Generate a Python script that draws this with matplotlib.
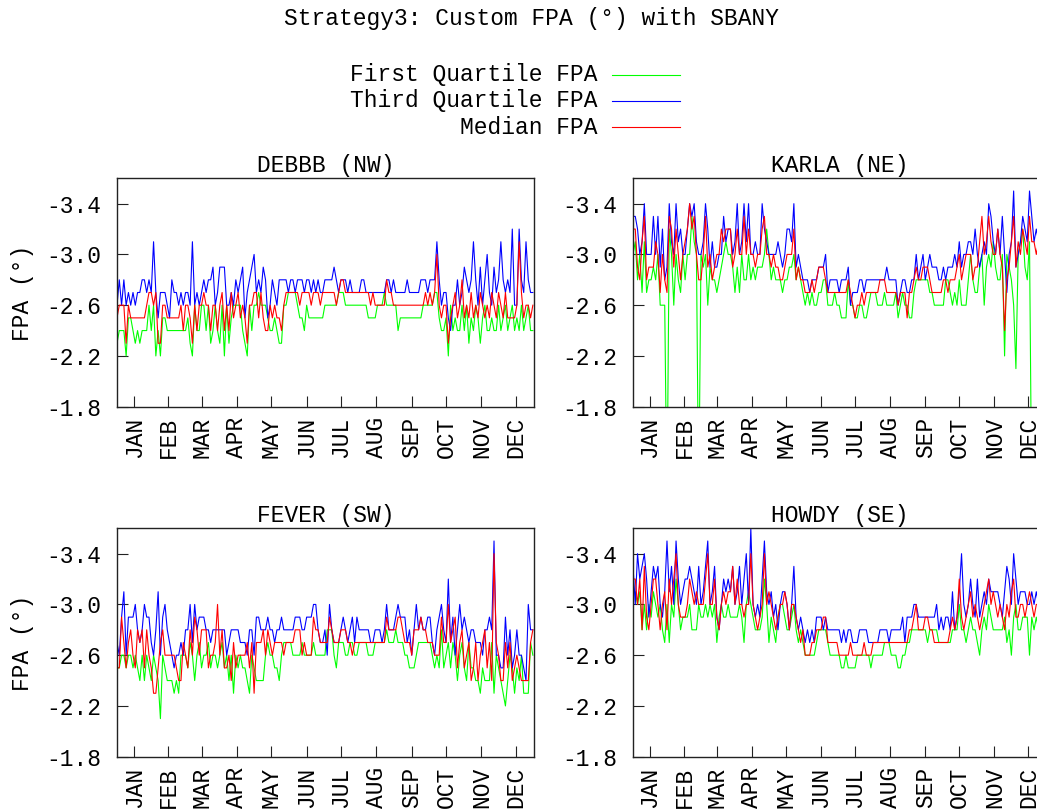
import numpy as np
import matplotlib
matplotlib.use("Agg")
import matplotlib.pyplot as plt
from matplotlib.lines import Line2D

# FPA magnitudes in tenths of a degree, one value every second day (day 0, 2, ..., 364)
debbb_q1 = [
    23, 24, 24, 24, 22, 25, 25, 24, 23, 24, 23, 24, 24, 24, 26, 24,
    26, 22, 24, 22, 25, 25, 24, 24, 24, 24, 24, 24, 24, 24, 24, 25,
    23, 22, 26, 24, 24, 26, 26, 24, 26, 23, 24, 26, 24, 23, 26, 22,
    26, 23, 25, 26, 26, 26, 26, 24, 23, 22, 26, 24, 26, 26, 27, 26,
    26, 26, 25, 24, 24, 25, 24, 23, 23, 26, 26, 27, 27, 27, 27, 26,
    25, 25, 24, 26, 25, 25, 25, 25, 25, 25, 25,
    26, 26, 26, 26, 26, 26, 27, 27, 27, 26, 26, 26, 26, 26, 26,
    26, 26, 26, 26, 25, 25, 25, 25, 26, 26, 26, 27, 26, 26, 26,
    26, 26, 24, 25, 25, 25, 25, 25, 25, 25, 25, 25, 25, 26, 26,
    26, 26, 26, 27, 27, 25, 24, 24, 25, 22, 26, 24, 25, 24, 24,
    26, 24, 26, 23, 25, 24, 26, 25, 23, 25, 26, 24, 24, 25, 24,
    24, 26, 24, 25, 26, 24, 25, 26, 24, 25, 24, 26, 24, 25, 26, 24, 24,
]
debbb_q3 = [
    26, 28, 26, 28, 26, 27, 26, 27, 26, 27, 27, 28, 28, 27, 28, 27,
    31, 27, 25, 27, 27, 27, 26, 25, 28, 27, 27, 26, 27, 26, 27, 27,
    26, 31, 26, 27, 26, 27, 28, 27, 28, 28, 29, 26, 27, 29,
    29, 29, 26, 26, 27, 26, 28, 27, 28, 29, 25, 27, 28, 29, 30,
    27, 28, 27, 29, 28, 25, 26, 28, 27, 26, 28, 28, 28, 28, 27,
    28, 28, 27, 28, 28, 28, 27, 28, 28, 27, 28, 27, 28, 27, 27,
    28, 28, 28, 28, 29, 28, 27, 28, 28, 28, 27, 28, 27, 27, 27,
    27, 28, 28, 27, 27, 27, 27, 27, 27, 27, 27, 27, 28, 28, 27,
    28, 27, 27, 27, 27, 27, 28, 27, 27, 27, 27, 27, 28, 28, 28,
    27, 28, 28, 28, 31, 28, 26, 27, 27, 25, 24, 26, 26, 28, 26,
    27, 29, 28, 27, 28, 31, 28, 26, 29, 26, 28, 30, 27, 26, 29,
    27, 28, 31, 28, 27, 28, 27, 32, 26, 26, 32, 28, 27, 31, 28, 27, 27,
]
debbb_med = [
    25, 26, 26, 26, 23, 26, 25, 25, 25, 25, 25, 25, 25, 26, 27, 27,
    26, 27, 23, 23, 26, 26, 25, 25, 25, 25, 25, 25, 26, 24, 26, 26,
    25, 23, 26, 24, 26, 26, 27, 26, 26, 24, 26, 26, 24, 26, 27, 24,
    26, 24, 27, 25, 26, 27, 25, 26, 25, 23, 26, 26, 27, 27, 25, 27,
    25, 24, 24, 26, 25, 26, 25, 25, 24, 26, 27, 27, 27, 27, 27, 27,
    26, 27, 27, 27, 27, 26, 27, 27, 27, 26, 27,
    27, 27, 27, 27, 27, 26, 27, 28, 28, 27, 27, 27, 27, 27, 27,
    27, 27, 27, 27, 27, 26, 27, 26, 26, 26, 26, 26, 28, 27, 27,
    26, 26, 26, 26, 26, 26, 26, 26, 26, 26, 26, 26, 26, 26, 27,
    26, 27, 26, 27, 30, 26, 25, 26, 26, 23, 25, 26, 27, 25, 26,
    28, 25, 26, 25, 27, 25, 26, 25, 27, 26, 25, 26, 25, 27, 26,
    25, 27, 26, 25, 27, 25, 25, 25, 25, 26, 31, 27, 25, 26, 26, 25, 26,
]

karla_q1 = [
    30, 31, 28, 30, 27, 31, 27, 28, 28, 29,
    28, 30, 26, 26, 26, 10, 32, 30, 26, 30,
    28, 27, 30, 28, 30, 30, 33, 31, 30, 10,
    30, 29, 30, 26, 29, 28, 28, 27, 28, 29,
    30, 31, 30, 30, 29, 27, 29, 27, 30, 28,
    28, 30, 28, 29, 28, 29, 29, 29, 30, 32,
    30, 28, 29, 28, 28, 28, 27, 28, 28, 29,
    29, 30, 28, 29, 28, 27, 26, 27, 26, 27,
    26, 26,
    27, 27, 28, 28, 26, 26, 26, 27, 26, 26,
    25, 25, 25, 28, 26, 26, 25, 25, 26, 26,
    25, 25, 26, 27, 27, 27, 26, 26, 26, 27,
    26, 26, 26, 26, 27, 25, 26, 27, 26, 26,
    25, 25, 27, 28, 28, 28, 28, 28, 28, 27,
    27, 26, 26, 26, 26, 26, 28, 28, 27, 26,
    27, 26, 28, 26, 26, 26, 28, 30, 28, 27,
    27, 29, 30, 26, 29, 30, 29, 31, 29, 28,
    28, 30, 22, 30, 29, 28, 26, 21, 30, 31,
    32, 29, 28, 31, 10, 10, 10, 10, 10, 10,
    10,
]
karla_q3 = [
    33, 33, 32, 30, 31, 34, 30, 30, 30, 33,
    30, 33, 29, 32, 28, 29, 34, 31, 30, 34,
    31, 32, 30, 30, 32, 34, 33, 34, 31, 30,
    30, 31, 34, 32, 29, 31, 29, 29, 30, 30,
    33, 31, 32, 32, 30, 31, 34, 30, 31, 34,
    31, 34, 30, 30, 31, 30, 30, 34, 32, 31,
    30, 30, 30, 30, 31, 30, 29, 30, 32, 32,
    31, 34, 29, 30, 29, 28, 28, 28, 27, 28,
    28, 28,
    29, 29, 29, 30, 27, 28, 28, 28, 28, 27,
    28, 28, 28, 29, 26, 27, 27, 27, 28, 28,
    27, 28, 28, 28, 28, 28, 28, 28, 28, 28,
    29, 28, 28, 28, 28, 26, 27, 28, 28, 27,
    27, 28, 28, 30, 28, 29, 30, 28, 29, 30,
    29, 29, 29, 28, 28, 29, 28, 29, 29, 29,
    30, 29, 31, 29, 30, 30, 31, 31, 30, 32,
    30, 29, 30, 31, 30, 34, 33, 31, 30, 32,
    30, 33, 30, 27, 30, 31, 35, 29, 30, 31,
    33, 32, 31, 35, 33, 31, 32, 31, 30, 32,
    31,
]
karla_med = [
    32, 32, 29, 28, 31, 33, 28, 29, 29, 29,
    31, 30, 27, 30, 28, 27, 33, 32, 29, 32,
    30, 28, 30, 31, 32, 34, 32, 33, 30, 28,
    28, 30, 33, 29, 30, 28, 29, 30, 30, 32,
    31, 32, 32, 32, 29, 30, 32, 30, 30, 33,
    30, 32, 30, 30, 29, 30, 30, 32, 33, 30,
    30, 29, 30, 29, 29, 28, 28, 29, 30, 30,
    30, 32, 28, 29, 28, 28, 27, 27, 27, 28,
    27, 28,
    29, 29, 29, 28, 27, 27, 27, 27, 27, 27,
    27, 27, 27, 28, 27, 26, 25, 26, 26, 27,
    26, 27, 27, 27, 27, 27, 27, 28, 28, 28,
    27, 27, 27, 27, 27, 26, 27, 27, 27, 25,
    27, 27, 28, 29, 28, 28, 29, 29, 29, 28,
    27, 27, 27, 27, 27, 28, 28, 27, 28, 28,
    28, 29, 30, 28, 29, 30, 30, 30, 28, 29,
    29, 31, 33, 30, 31, 33, 31, 30, 30, 32,
    30, 29, 24, 28, 29, 31, 33, 29, 31, 30,
    32, 31, 30, 33, 31, 31, 30, 31, 30, 29,
    30,
]

fever_q1 = [
    25, 25, 26, 26, 25, 26, 26, 25, 26, 25,
    24, 26, 24, 26, 25, 24, 26, 25, 24, 21,
    26, 25, 24, 24, 24, 23, 24, 23, 26, 26,
    26, 25, 27, 26, 24, 26, 27, 25, 26, 26,
    27, 25, 26, 26, 25, 26, 27, 25, 26, 24,
    26, 23, 26, 25, 26, 25, 25, 24, 23, 26,
    25, 24, 24, 24, 24, 26, 27, 26, 26, 25,
    25, 24, 26, 27, 27, 27, 27, 26, 26, 26,
    26, 27, 26, 26, 26, 26, 27, 26, 26,
    26, 26, 26, 28, 28, 28, 26, 25, 27, 27,
    27, 26, 26, 27, 27, 26, 26, 27, 27, 27,
    27, 26, 26, 26, 27, 27, 27, 27, 27, 28,
    27, 27, 27, 28, 27, 27, 27, 26, 26, 25,
    25, 25, 26, 27, 27, 27, 27, 27, 27, 26,
    25, 26, 25, 28, 25, 26, 27, 25, 27, 26,
    24, 26, 27, 25, 24, 27, 25, 25, 24, 24,
    23, 25, 24, 24, 24, 27, 23, 26, 25, 24,
    23, 22, 24, 26, 25, 23, 25, 24, 26, 23,
    23, 23, 27, 26,
]
fever_q3 = [
    27, 26, 29, 31, 26, 29, 29, 29, 30, 28,
    27, 28, 30, 29, 29, 27, 26, 28, 31, 26,
    29, 30, 28, 27, 26, 25, 26, 26, 27, 26,
    28, 28, 30, 27, 30, 28, 29, 29, 29, 28,
    28, 27, 28, 28, 28, 28, 28, 28, 26, 27,
    28, 28, 28, 28, 27, 27, 27, 26, 28, 28,
    26, 29, 29, 28, 28, 28, 29, 28, 28, 27,
    28, 28, 29, 28, 28, 28, 28, 28, 29, 29,
    29, 28, 28, 29, 29, 29, 30,
    30, 28, 27, 27, 28, 26, 30, 28, 27, 27,
    27, 28, 29, 28, 27, 28, 29, 27, 29, 28,
    28, 28, 28, 28, 27, 27, 28, 28, 28, 27,
    28, 30, 28, 28, 28, 29, 30, 29, 29, 29,
    27, 28, 26, 28, 30, 28, 29, 28, 28, 29,
    29, 27, 26, 28, 29, 30, 28, 27, 32, 27,
    29, 26, 28, 30, 28, 29, 28, 27, 28, 28,
    27, 27, 27, 26, 28, 28, 29, 28, 35, 26,
    26, 25, 25, 29, 26, 28, 25, 26, 28, 26,
    26, 25, 24, 30, 28, 28,
]
fever_med = [
    25, 25, 29, 27, 25, 27, 28, 26, 25, 28,
    27, 28, 25, 28, 26, 25, 23, 23, 25, 27,
    28, 26, 26, 26, 26, 26, 25, 24, 24, 27,
    26, 25, 28, 26, 29, 28, 26, 28, 28, 28,
    25, 26, 26, 27, 30, 26, 28, 25, 25, 26,
    24, 27, 25, 26, 26, 26, 26, 27, 25, 27,
    23, 27, 27, 27, 28, 26, 28, 27, 26, 27,
    27, 27, 27, 26, 27, 27, 27, 27, 28, 28,
    28, 26, 27, 26, 26, 26, 29, 28, 28,
    27, 27, 27, 27, 29, 28, 27, 27, 27, 28,
    28, 28, 27, 27, 26, 27, 27, 27, 27, 27,
    27, 27, 27, 27, 27, 27, 27, 27, 27, 29,
    28, 28, 28, 28, 29, 29, 28, 27, 27, 27,
    26, 28, 28, 28, 29, 28, 28, 27, 27, 27,
    26, 26, 26, 29, 27, 27, 30, 27, 28, 29,
    25, 27, 28, 25, 26, 27, 24, 25, 27, 24,
    26, 27, 28, 25, 27, 24, 34, 27, 26, 24,
    24, 27, 25, 27, 24, 25, 26, 25, 24, 24,
    24, 24, 27, 28,
]

howdy_q1 = [
    31, 31, 30, 31, 28, 30, 28, 30, 29, 31,
    30, 29, 30, 28, 27, 30, 27, 30, 29, 32,
    30, 28, 29, 29, 29, 30, 28, 28, 28, 30,
    29, 29, 30, 29, 30, 29, 30, 27, 29, 30,
    29, 29, 30, 29, 29, 29, 29, 30, 29, 27,
    30, 31, 30, 29, 28, 28, 28, 29, 32, 30,
    27, 29, 28, 27, 29, 30, 30, 29, 28, 28,
    29, 30, 28, 27, 28, 27, 26, 26, 26, 26,
    26, 27, 28, 28, 28, 28, 27,
    26, 26, 26, 26, 26, 25, 25, 26, 25, 25,
    25, 25, 26, 26, 26, 26, 26, 26, 25, 26,
    26, 26, 26, 26, 27, 27, 27, 26, 26, 26,
    25, 25, 26, 26, 27, 27, 28, 28, 28, 28,
    28, 28, 28, 27, 28, 28, 28, 28, 27, 27,
    27, 27, 27, 27, 28, 28, 28, 30, 28, 28,
    27, 28, 29, 28, 28, 27, 26, 28, 29, 28,
    30, 29, 28, 28, 28, 28, 28, 29, 27, 28,
    26, 29, 30, 28, 28, 29, 29, 29, 26, 29,
    28, 29, 28, 29, 28, 29,
]
howdy_q3 = [
    33, 30, 34, 32, 33, 34, 32, 29, 31, 33,
    32, 33, 30, 29, 31, 35, 31, 33, 30, 35,
    32, 30, 31, 32, 32, 33, 32, 31, 30, 33,
    30, 31, 33, 35, 30, 31, 33, 29, 28, 30,
    32, 31, 32, 31, 33, 30, 31, 33, 30, 32,
    34, 30, 36, 30, 29, 30, 29, 32, 35, 31,
    30, 31, 29, 30, 28, 30, 31, 31, 30, 28,
    30, 33, 29, 28, 29, 28, 27, 28, 27, 28,
    27, 29, 29, 29, 28, 29, 28,
    28, 28, 28, 28, 28, 27, 28, 27, 28, 28,
    27, 27, 27, 28, 28, 28, 28, 27, 27, 27,
    27, 27, 28, 28, 28, 28, 27, 28, 28, 28,
    28, 28, 29, 27, 29, 29, 29, 30, 30, 29,
    29, 29, 29, 29, 29, 29, 29, 30, 28, 29,
    28, 29, 29, 28, 31, 28, 29, 31, 34, 30,
    29, 30, 32, 30, 29, 32, 29, 30, 31, 30,
    32, 31, 31, 31, 31, 30, 29, 31, 33, 32,
    30, 34, 32, 30, 31, 31, 31, 30, 30, 31,
    30, 31, 30, 32, 31, 30,
]
howdy_med = [
    32, 32, 30, 32, 28, 33, 29, 28, 30, 32,
    32, 30, 28, 30, 31, 28, 32, 30, 32, 34,
    30, 29, 29, 29, 30, 32, 31, 30, 31, 30,
    30, 30, 32, 34, 30, 30, 32, 29, 28, 30,
    31, 30, 31, 31, 33, 30, 32, 30, 30, 29,
    30, 30, 34, 30, 29, 28, 29, 30, 34, 30,
    31, 30, 29, 28, 29, 30, 30, 31, 30, 28,
    30, 30, 29, 28, 27, 28, 26, 26, 26, 27,
    27, 28, 28, 28, 29, 29, 27,
    27, 27, 27, 27, 26, 26, 26, 26, 26, 27,
    26, 26, 26, 26, 26, 27, 26, 26, 26, 27,
    27, 27, 27, 27, 27, 27, 27, 27, 27, 27,
    27, 27, 27, 27, 27, 28, 28, 29, 30, 28,
    28, 28, 29, 29, 28, 28, 27, 27, 27, 27,
    27, 27, 27, 28, 29, 28, 29, 32, 29, 28,
    29, 30, 31, 29, 30, 29, 28, 29, 30, 31,
    32, 30, 31, 30, 29, 30, 29, 28, 30, 29,
    31, 32, 29, 29, 30, 30, 29, 30, 31, 30,
    29, 30, 30, 31, 30, 29,
]

stations = ["DEBBB (NW)", "KARLA (NE)", "FEVER (SW)", "HOWDY (SE)"]
station_data = [
    (debbb_q1, debbb_q3, debbb_med),
    (karla_q1, karla_q3, karla_med),
    (fever_q1, fever_q3, fever_med),
    (howdy_q1, howdy_q3, howdy_med),
]
series_names = ["First Quartile FPA", "Third Quartile FPA", "Median FPA"]
series_colors = ["#00ff00", "#0000ff", "#ff0000"]

months = ["JAN", "FEB", "MAR", "APR", "MAY", "JUN",
          "JUL", "AUG", "SEP", "OCT", "NOV", "DEC"]
month_days = [15, 45, 74, 105, 135, 166, 196, 227, 258, 288, 319, 349]
y_ticks = [-3.4, -3.0, -2.6, -2.2, -1.8]

plt.rcParams["font.family"] = ["Liberation Mono", "DejaVu Sans Mono"]
plt.rcParams["font.size"] = 16.5
plt.rcParams["axes.unicode_minus"] = False

W, H = 1037, 811
fig = plt.figure(figsize=(W / 100, H / 100), dpi=100)

# panel boxes in pixels: left, top, width, height (right column runs past the edge)
boxes = [(117, 178.3, 417, 228.4), (633, 178.3, 413.5, 228.4),
         (117, 528.3, 417, 228.4), (633, 528.3, 413.5, 228.4)]

for (left, top, w, h), name, series in zip(boxes, stations, station_data):
    ax = fig.add_axes([left / W, 1 - (top + h) / H, w / W, h / H])
    for vals, color in zip(series, series_colors):
        fpa = -np.asarray(vals) / 10.0
        days = 2 * np.arange(len(fpa))
        ax.plot(days, fpa, color=color, lw=0.8)
    ax.set_xlim(0, 365)
    ax.set_ylim(-1.8, -3.6)
    ax.set_yticks(y_ticks, [f"{t:.1f}" for t in y_ticks])
    ax.set_xticks(month_days, months, rotation=90)
    ax.tick_params(axis="both", direction="in", length=8, width=0.8, color="#222222")
    ax.tick_params(axis="y", pad=11)
    ax.tick_params(axis="x", pad=7)
    for s in ax.spines.values():
        s.set_linewidth(1.0)
        s.set_color("#222222")
    ax.set_title(name, pad=4.5, fontsize=16.5)
    if left < 300:
        fig.text(23 / W, 1 - (top + h / 2) / H, "FPA (°)", rotation=90,
                 ha="center", va="center")

fig.text(532 / W, 1 - 25 / H, "Strategy3: Custom FPA (°) with SBANY",
         ha="center", va="baseline")

# key: right-aligned names with a short line sample after each
for k, (label, color) in enumerate(zip(series_names, series_colors)):
    y_line = 74.5 + 26 * k
    fig.text(598 / W, 1 - (y_line + 7) / H, label, ha="right", va="baseline")
    fig.add_artist(Line2D([612 / W, 680 / W], [1 - y_line / H] * 2,
                          color=color, lw=0.8, transform=fig.transFigure))

fig.savefig("out.png", dpi=100)
